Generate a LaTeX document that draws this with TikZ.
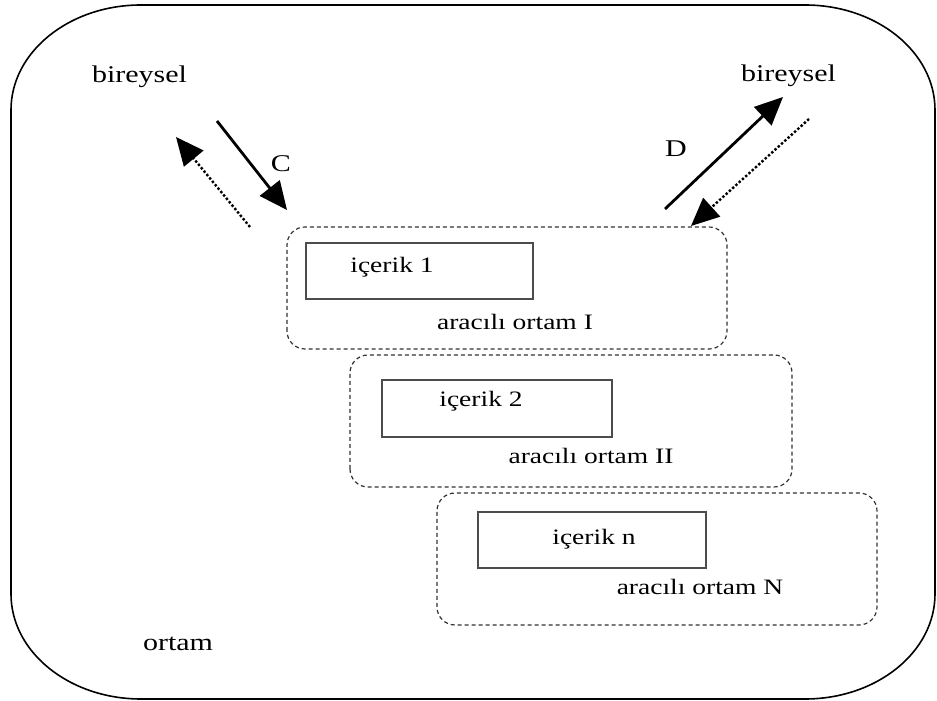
\documentclass[tikz,border=0pt]{standalone}
\usepackage{fontspec}
\setmainfont{Liberation Serif}[FakeStretch=1.25]
\usetikzlibrary{arrows.meta}
\begin{document}
\begin{tikzpicture}[x=1pt,y=1pt,
  medium/.style={draw=black!80,dashed,dash pattern=on 4pt off 3pt,line width=1.2pt,rounded corners=18pt},
  content/.style={draw=black!70,line width=1.1pt},
  lbl/.style={anchor=base,inner sep=0pt,font=\fontsize{22}{26}\selectfont},
  biglbl/.style={anchor=base,inner sep=0pt,font=\fontsize{24}{28}\selectfont},
  flow/.style={line width=2.8pt,-{Triangle[length=28pt,width=25pt]}},
  back/.style={line width=2.4pt,dotted,-{Triangle[length=28pt,width=25pt]}}]
\useasboundingbox (0,0) rectangle (937,701);
% ortam
\draw[line width=1.6pt] (141,696) -- (805,696)
  arc[start angle=90,end angle=0,x radius=130,y radius=105] -- (935,107)
  arc[start angle=0,end angle=-90,x radius=130,y radius=105] -- (141,2)
  arc[start angle=270,end angle=180,x radius=130,y radius=105] -- (11,591)
  arc[start angle=180,end angle=90,x radius=130,y radius=105];
\node[biglbl] (ortam) at (178,50) {ortam};
% aracili ortamlar
\draw[medium] (287,352) rectangle (727,474);
\draw[medium] (350,214) rectangle (792,346);
\draw[medium] (437,76) rectangle (877,208);
\draw[content] (306,402) rectangle (533,458);
\draw[content] (382,264) rectangle (612,321);
\draw[content] (478,133) rectangle (706,189);
\node[lbl] (ic1) at (392,428) {içerik 1};
\node[lbl] (ao1) at (515,371) {aracılı ortam I};
\node[lbl] (ic2) at (481,294) {içerik 2};
\node[lbl] (ao2) at (591,237) {aracılı ortam II};
\node[lbl] (icn) at (594,156) {içerik n};
\node[lbl] (aon) at (700,106) {aracılı ortam N};
% bireysel
\node[biglbl] (bL) at (139.5,618) {bireysel};
\node[biglbl] (bR) at (788.5,619) {bireysel};
\node[biglbl] (C) at (281,529) {C};
\node[biglbl] (D) at (676,544) {D};
\coordinate (c1) at (217,580);
\coordinate (c2) at (287,491);
\coordinate (l1) at (250,474);
\coordinate (l2) at (176,564);
\coordinate (d1) at (665,492);
\coordinate (d2) at (783,604);
\coordinate (r1) at (809,582);
\coordinate (r2) at (691,475);
\draw[flow] (c1) -- (c2);
\draw[back] (l1) -- (l2);
\draw[flow] (d1) -- (d2);
\draw[back] (r1) -- (r2);
\end{tikzpicture}
\end{document}
